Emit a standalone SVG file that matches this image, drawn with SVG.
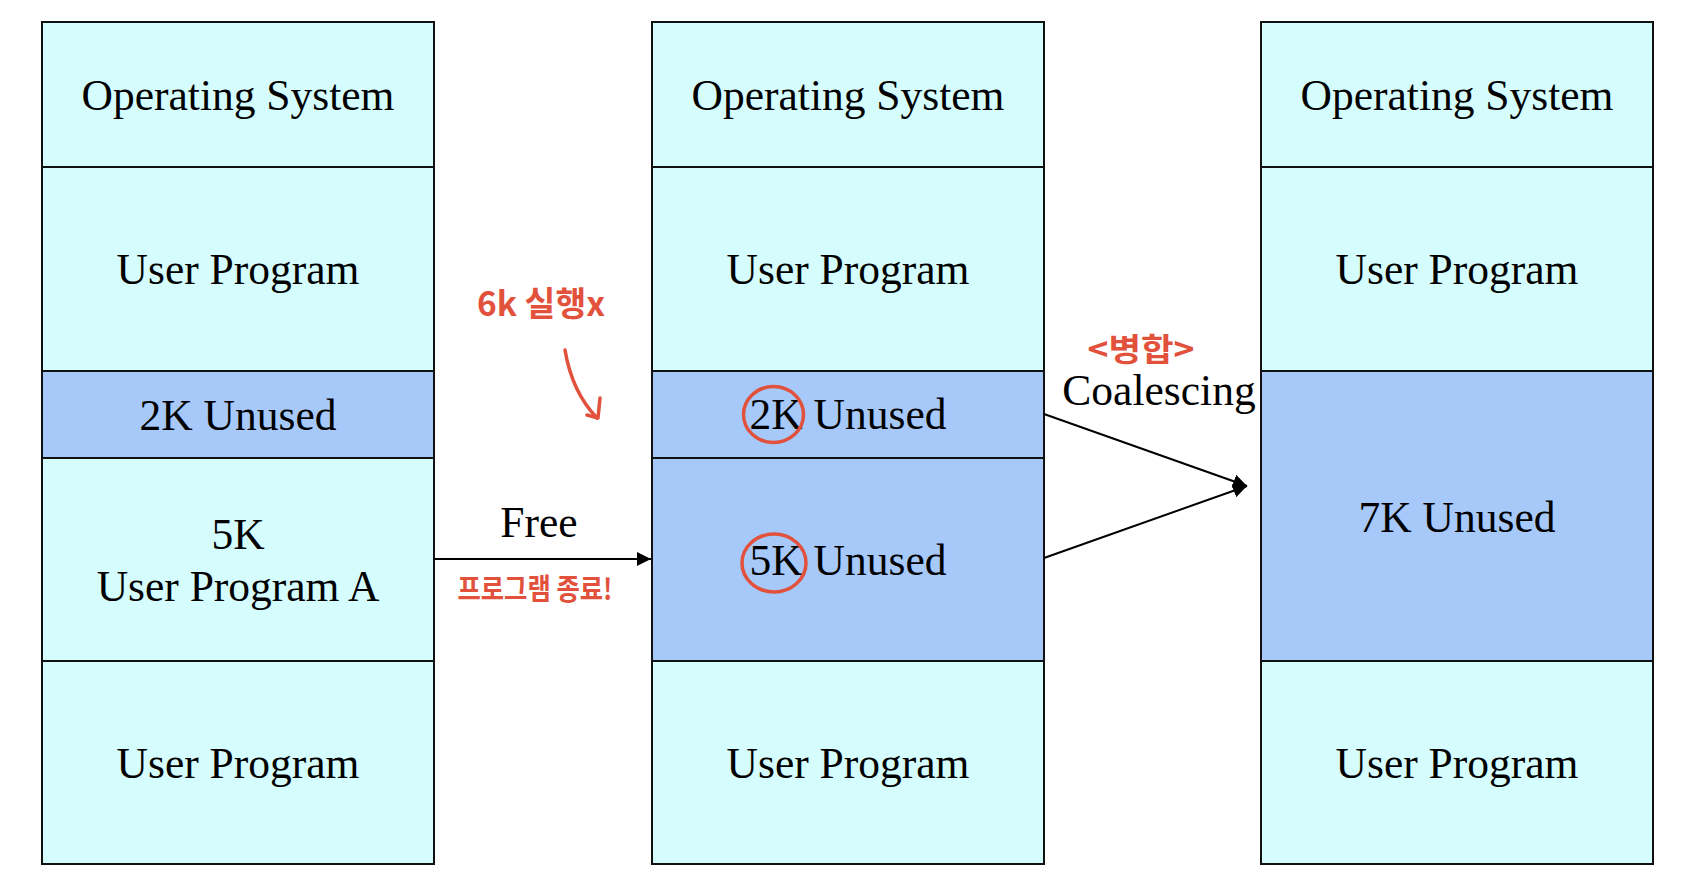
<svg xmlns="http://www.w3.org/2000/svg" width="1690" height="886" viewBox="0 0 1690 886">
<style>
.c{fill:#D5FDFD;stroke:#111;stroke-width:2}
.b{fill:#A6C9FA;stroke:#111;stroke-width:2}
.t{font-family:"Liberation Serif","Times New Roman",serif;font-size:43.5px;fill:#000;text-anchor:middle}
.h{font-family:"Noto Sans CJK KR","Noto Sans",sans-serif;font-weight:bold;fill:#E1513C;text-anchor:middle}
.ln{stroke:#000;stroke-width:2;fill:none}
.rc{fill:none;stroke:#E1513C;stroke-width:3.5}
</style>
<defs>
<marker id="ah" markerWidth="14" markerHeight="14" refX="14" refY="7" orient="auto" markerUnits="userSpaceOnUse">
<path d="M0,0 L14,7 L0,14 Z" fill="#000"/>
</marker>
</defs>
<rect width="1690" height="886" fill="#fff"/>
<g id="memory-before">
<rect class="c" x="42" y="22" width="392" height="145"/>
<text class="t" x="238" y="110">Operating System</text>
<rect class="c" x="42" y="167" width="392" height="204"/>
<text class="t" x="238" y="284">User Program</text>
<rect class="b" x="42" y="371" width="392" height="87"/>
<text class="t" x="238" y="430">2K Unused</text>
<rect class="c" x="42" y="458" width="392" height="203"/>
<text class="t" x="238" y="549">5K</text>
<text class="t" x="238" y="601">User Program A</text>
<rect class="c" x="42" y="661" width="392" height="203"/>
<text class="t" x="238" y="778">User Program</text>
</g>
<g id="memory-after-free">
<rect class="c" x="652" y="22" width="392" height="145"/>
<text class="t" x="848" y="110">Operating System</text>
<rect class="c" x="652" y="167" width="392" height="204"/>
<text class="t" x="848" y="284">User Program</text>
<rect class="b" x="652" y="371" width="392" height="87"/>
<text class="t" x="848" y="429">2K Unused</text>
<rect class="b" x="652" y="458" width="392" height="203"/>
<text class="t" x="848" y="575">5K Unused</text>
<rect class="c" x="652" y="661" width="392" height="203"/>
<text class="t" x="848" y="778">User Program</text>
<ellipse class="rc" cx="773.5" cy="414.5" rx="30" ry="28"/>
<ellipse class="rc" cx="774" cy="563" rx="32" ry="29"/>
</g>
<g id="memory-after-coalescing">
<rect class="c" x="1261" y="22" width="392" height="145"/>
<text class="t" x="1457" y="110">Operating System</text>
<rect class="c" x="1261" y="167" width="392" height="204"/>
<text class="t" x="1457" y="284">User Program</text>
<rect class="b" x="1261" y="371" width="392" height="290"/>
<text class="t" x="1457" y="532">7K Unused</text>
<rect class="c" x="1261" y="661" width="392" height="203"/>
<text class="t" x="1457" y="778">User Program</text>
</g>
<g id="connectors">
<line class="ln" x1="434" y1="559" x2="651" y2="559" marker-end="url(#ah)"/>
<line class="ln" x1="1044" y1="414" x2="1247" y2="486" marker-end="url(#ah)"/>
<line class="ln" x1="1044" y1="558" x2="1247" y2="486" marker-end="url(#ah)"/>
</g>
<g id="labels">
<text class="t" x="539" y="537">Free</text>
<text class="t" x="1159" y="405">Coalescing</text>
<text class="h" x="541" y="316" font-size="34" textLength="128" lengthAdjust="spacingAndGlyphs">6k 실행x</text>
<path d="M565,350 Q572,392 597,418" fill="none" stroke="#E1513C" stroke-width="3.5" stroke-linecap="round"/>
<path d="M587,415 L598,418 L600,398" fill="none" stroke="#E1513C" stroke-width="3.5" stroke-linecap="round" stroke-linejoin="round"/>
<text class="h" x="535" y="600" font-size="29" textLength="155" lengthAdjust="spacingAndGlyphs">프로그램 종료!</text>
<text class="h" x="1141" y="361" font-size="32" textLength="107" lengthAdjust="spacingAndGlyphs">&lt;병합&gt;</text>
</g>
</svg>
